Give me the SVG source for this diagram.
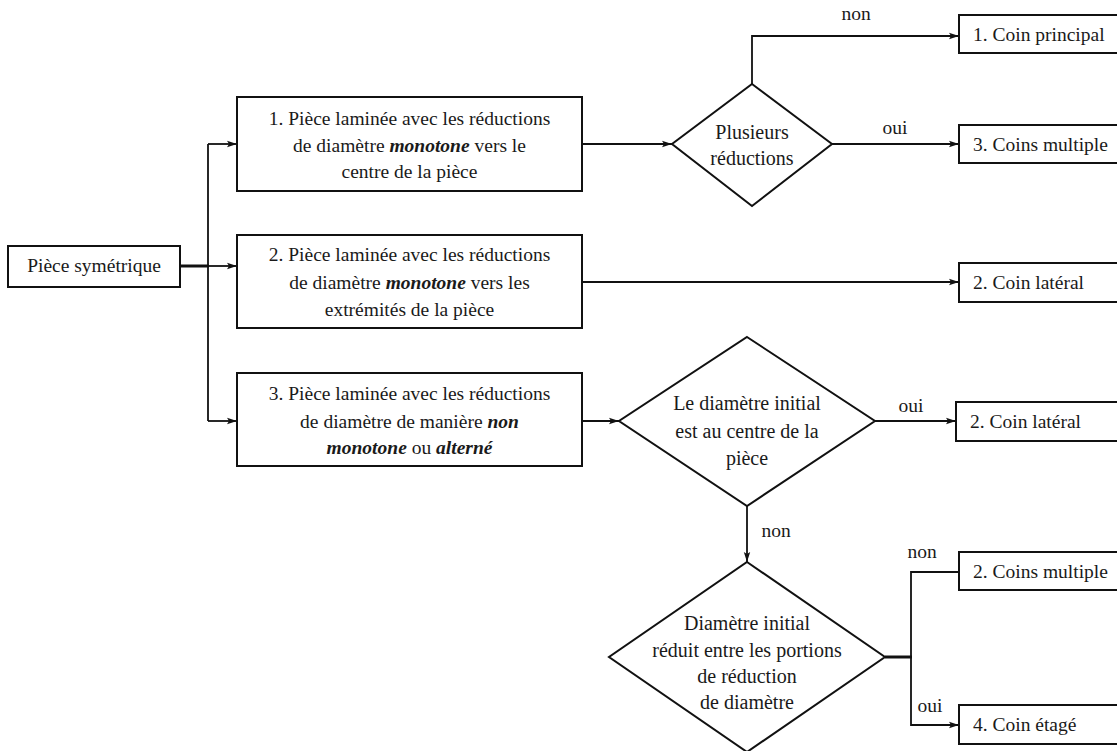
<svg xmlns="http://www.w3.org/2000/svg" width="1117" height="751" viewBox="0 0 1117 751">
<defs>
<marker id="ah" markerWidth="10" markerHeight="8" refX="10" refY="4" orient="auto" markerUnits="userSpaceOnUse">
<path d="M0,0.8 L10,4 L0,7.2 L2,4 Z" fill="#111"/>
</marker>
<style>
.box{fill:#fff;stroke:#111;stroke-width:2}
text{font-family:'Liberation Serif','Times New Roman',serif;font-size:19.5px;fill:#1a1a1a}
.d{font-size:20px}
.c{text-anchor:middle}
.bi{font-weight:bold;font-style:italic}
.ln{fill:none;stroke:#111;stroke-width:1.8}
.ar{marker-end:url(#ah)}
.thick{fill:none;stroke:#111;stroke-width:3}
</style>
</defs>
<rect width="1117" height="751" fill="#fff"/>
<g font-family="Liberation Serif, serif" font-size="19.5">
<g id="connectors">
<line class="thick" x1="180" y1="266" x2="209" y2="266"/>
<line class="ln" x1="208" y1="144" x2="208" y2="421"/>
<line class="ln ar" x1="208" y1="144" x2="237" y2="144"/>
<line class="ln ar" x1="208" y1="266" x2="237" y2="266"/>
<line class="ln ar" x1="208" y1="421" x2="237" y2="421"/>
<line class="ln ar" x1="582" y1="144" x2="672" y2="144"/>
<polyline class="ln ar" points="752,84 752,36 959,36"/>
<line class="ln ar" x1="832" y1="144" x2="959" y2="144"/>
<line class="ln ar" x1="582" y1="282" x2="959" y2="282"/>
<line class="ln ar" x1="582" y1="421" x2="619" y2="421"/>
<line class="ln ar" x1="875" y1="421" x2="956" y2="421"/>
<line class="ln ar" x1="747" y1="506" x2="747" y2="562"/>
<line class="thick" x1="885" y1="657" x2="912" y2="657"/>
<polyline class="ln ar" points="959,572 911,572 911,725 959,725"/>
<text class="c" x="856" y="20">non</text>
<text class="c" x="895" y="134">oui</text>
<text class="c" x="911" y="412">oui</text>
<text class="c" x="776" y="537">non</text>
<text class="c" x="922" y="558">non</text>
<text class="c" x="930" y="712">oui</text>
</g>

<g id="n-start">
<rect class="box" x="8" y="246" width="172" height="41"/>
<text class="c" x="94" y="272">Pièce symétrique</text>
</g>

<g id="n-box1">
<rect class="box" x="237" y="97" width="345" height="94"/>
<text class="c" x="409.5" y="125">1. Pièce laminée avec les réductions</text>
<text class="c" x="409.5" y="152">de diamètre <tspan class="bi">monotone</tspan> vers le</text>
<text class="c" x="409.5" y="178">centre de la pièce</text>
</g>

<g id="n-box2">
<rect class="box" x="237" y="235" width="345" height="93"/>
<text class="c" x="409.5" y="261">2. Pièce laminée avec les réductions</text>
<text class="c" x="409.5" y="289">de diamètre <tspan class="bi">monotone</tspan> vers les</text>
<text class="c" x="409.5" y="316">extrémités de la pièce</text>
</g>

<g id="n-box3">
<rect class="box" x="237" y="373" width="345" height="93"/>
<text class="c" x="409.5" y="400">3. Pièce laminée avec les réductions</text>
<text class="c" x="409.5" y="428">de diamètre de manière <tspan class="bi">non</tspan></text>
<text class="c" x="409.5" y="454"><tspan class="bi">monotone</tspan> ou <tspan class="bi">alterné</tspan></text>
</g>

<g id="n-dec1">
<polygon class="box" points="752,84 832,144 752,206 672,144"/>
<text class="c d" x="752" y="139">Plusieurs</text>
<text class="c d" x="752" y="165">réductions</text>
</g>

<g id="n-dec2">
<polygon class="box" points="747,337 875,421 747,506 619,421"/>
<text class="c d" x="747" y="410">Le diamètre initial</text>
<text class="c d" x="747" y="438">est au centre de la</text>
<text class="c d" x="747" y="465">pièce</text>
</g>

<g id="n-dec3">
<polygon class="box" points="747,562 885,657 747,752 609,657"/>
<text class="c d" x="747" y="630">Diamètre initial</text>
<text class="c d" x="747" y="657">réduit entre les portions</text>
<text class="c d" x="747" y="683">de réduction</text>
<text class="c d" x="747" y="709">de diamètre</text>
</g>

<g id="n-r1">
<rect class="box" x="959" y="15" width="170" height="38"/>
<text x="973" y="41">1. Coin principal</text>
</g>
<g id="n-r2">
<rect class="box" x="959" y="125" width="170" height="38"/>
<text x="973" y="151">3. Coins multiple</text>
</g>
<g id="n-r3">
<rect class="box" x="959" y="263" width="170" height="39"/>
<text x="973" y="289">2. Coin latéral</text>
</g>
<g id="n-r4">
<rect class="box" x="956" y="402" width="170" height="39"/>
<text x="970" y="428">2. Coin latéral</text>
</g>
<g id="n-r5">
<rect class="box" x="959" y="552" width="170" height="38"/>
<text x="973" y="578">2. Coins multiple</text>
</g>
<g id="n-r6">
<rect class="box" x="959" y="705" width="170" height="39"/>
<text x="973" y="731">4. Coin étagé</text>
</g>
</g>
</svg>
